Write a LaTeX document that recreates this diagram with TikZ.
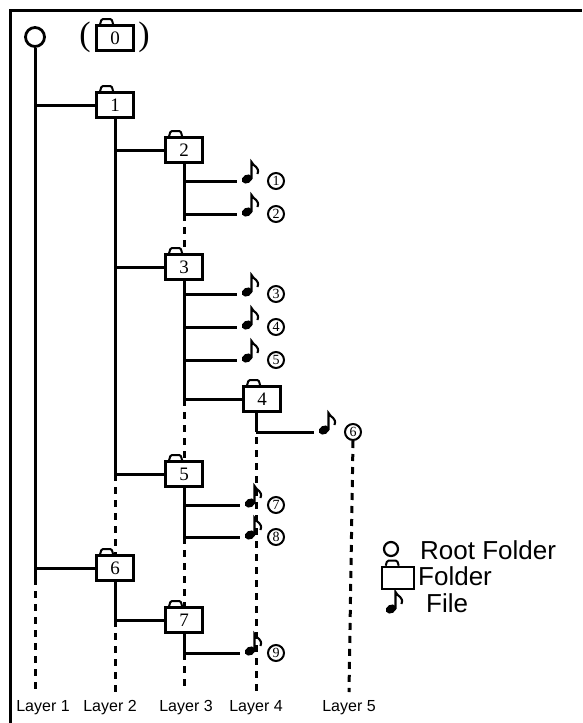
\documentclass[tikz,border=0pt]{standalone}
\usepackage{fontspec}
\usetikzlibrary{shapes.geometric}
\setmainfont{Liberation Serif}
\setsansfont{Liberation Sans}
\begin{document}
\begin{tikzpicture}[x=1pt,y=-1pt,
  treeline/.style={line width=3pt},
  layerdash/.style={line width=3pt, dash pattern=on 7pt off 6pt},
  folderbox/.style={draw, line width=2.8pt, minimum width=37pt, minimum height=25pt, inner sep=0pt, font=\fontsize{19}{19}\selectfont},
  foldertab/.style={line width=2pt, rounded corners=1.2pt},
  numcircle/.style={draw, circle, line width=2pt, minimum size=16pt, inner sep=0pt, font=\fontsize{14}{14}\selectfont},
  notehead/.style={ellipse, fill=black, minimum width=11pt, minimum height=8.5pt, inner sep=0pt, rotate=30},
  notestem/.style={line width=2.1pt},
  rootcircle/.style={draw, circle, line width=2.8pt, minimum size=19pt, inner sep=0pt},
  layerlabel/.style={font=\sffamily\fontsize{16}{16}\selectfont, inner sep=0pt},
  legendtext/.style={font=\sffamily\fontsize{26}{26}\selectfont, inner sep=0pt, anchor=west}
]
\useasboundingbox (0,0) rectangle (582,723);
\newcommand{\mkfolder}[4][folderbox]{%
  \node[#1] (#2) at (#3) {#4};
  \draw[foldertab] ([xshift=5pt]#2.north west) -- ([xshift=6.5pt,yshift=5pt]#2.north west) -- ([xshift=16.5pt,yshift=5pt]#2.north west) -- ([xshift=18pt]#2.north west);}
\newcommand{\mknote}[3]{% name, head x, head y
  \node[notehead] (#1) at (#2,#3) {};
  \draw[notestem] (#2+4.5,#3) -- (#2+4.5,#3-17) .. controls (#2+6.5,#3-12) and (#2+13,#3-12.5) .. (#2+10.5,#3-5);}
\newcommand{\mkfile}[5]{% number, branch x, y, note head x, circle x
  \coordinate (b#1) at (#2,#3);
  \mknote{n#1}{#4}{#3-2}
  \node[numcircle] (c#1) at (#5,#3) {#1};
  \draw[treeline, shorten >=5pt] (b#1) -- (b#1 -| n#1.west);}
% frame (top and left edges)
\coordinate (fbl) at (10,723);
\coordinate (ftl) at (10,10);
\coordinate (ftr) at (582,10);
\draw[line width=3pt] (fbl) -- (ftl) -- (ftr);

% root and folder 0
\node[rootcircle] (root) at (35,37) {};
\mkfolder{f0}{115,38}{0}
\node[font=\fontsize{34}{34}\selectfont, inner sep=0pt] (lp) at (85,37) {(};
\node[font=\fontsize{34}{34}\selectfont, inner sep=0pt] (rp) at (144,37) {)};

% folders
\mkfolder{f1}{115,105}{1}
\mkfolder{f2}{184,150}{2}
\mkfolder{f3}{184,267}{3}
\mkfolder{f4}{262,399}{4}
\mkfolder{f5}{184,474}{5}
\mkfolder{f6}{115,568}{6}
\mkfolder{f7}{184,620}{7}

% layer coordinates
\coordinate (L1a) at (35,578); \coordinate (L1b) at (35,692);
\coordinate (L2a) at (115,474); \coordinate (L2b) at (115,620); \coordinate (L2c) at (115,692);
\coordinate (L3a) at (184,214); \coordinate (L3b) at (184,399); \coordinate (L3c) at (184,537); \coordinate (L3d) at (184,653); \coordinate (L3e) at (184,692);
\coordinate (L4a) at (256,411); \coordinate (L4b) at (256,432); \coordinate (L4c) at (256,692);
\coordinate (L5b) at (349,692);

% dashed layer lines
\draw[layerdash] (L1a) -- (L1b);
\draw[layerdash] (L2a) -- (f6.north);
\draw[layerdash] (L2b) -- (L2c);
\draw[layerdash] (L3a) -- (f3.north);
\draw[layerdash] (L3b) -- (f5.north);
\draw[layerdash] (L3c) -- (f7.north);
\draw[layerdash] (L3d) -- (L3e);
\draw[layerdash] (L4a) -- (L4c);

% files
\mkfile{1}{184}{181}{247}{276}
\mkfile{2}{184}{214}{247}{276}
\mkfile{3}{184}{294}{247}{276}
\mkfile{4}{184}{327}{247}{276}
\mkfile{5}{184}{360}{247}{276}
\mkfile{7}{184}{505}{250}{276}
\mkfile{8}{184}{537}{250}{276}
\mkfile{9}{184}{653}{250}{276}
\mkfile{6}{256}{432}{324}{353}
\draw[layerdash] (c6.south) -- (L5b);

% solid tree lines
\draw[treeline] (root.south) -- (L1a);
\draw[treeline] (root.south |- f1.west) -- (f1.west);
\draw[treeline] (root.south |- f6.west) -- (f6.west);
\draw[treeline] (f1.south) -- (L2a);
\draw[treeline] (f1.south |- f2.west) -- (f2.west);
\draw[treeline] (f1.south |- f3.west) -- (f3.west);
\draw[treeline] (L2a) -- (f5.west);
\draw[treeline] (f6.south) -- (L2b) -- (f7.west);
\draw[treeline] (f2.south) -- (L3a);
\draw[treeline] (f3.south) -- (L3b) -- (f4.west);
\draw[treeline] (f5.south) -- (L3c);
\draw[treeline] (f7.south) -- (L3d);
\draw[treeline] (L4a) -- (L4b);

% layer labels
\node[layerlabel] (lab1) at (43,708) {Layer 1};
\node[layerlabel] (lab2) at (110,708) {Layer 2};
\node[layerlabel] (lab3) at (186,708) {Layer 3};
\node[layerlabel] (lab4) at (256,708) {Layer 4};
\node[layerlabel] (lab5) at (349,708) {Layer 5};

% legend
\node[draw, circle, line width=2.2pt, minimum size=14pt, inner sep=0pt] (legroot) at (391,549) {};
\node[legendtext] (legroott) at (420,550) {Root Folder};
\mkfolder[{draw, line width=2.6pt, minimum width=32pt, minimum height=22pt, inner sep=0pt}]{legf}{398,578}{}
\node[legendtext] (legft) at (418,576) {Folder};
\mknote{legn}{391}{609}
\node[legendtext] (legnt) at (426,603) {File};
\end{tikzpicture}
\end{document}
